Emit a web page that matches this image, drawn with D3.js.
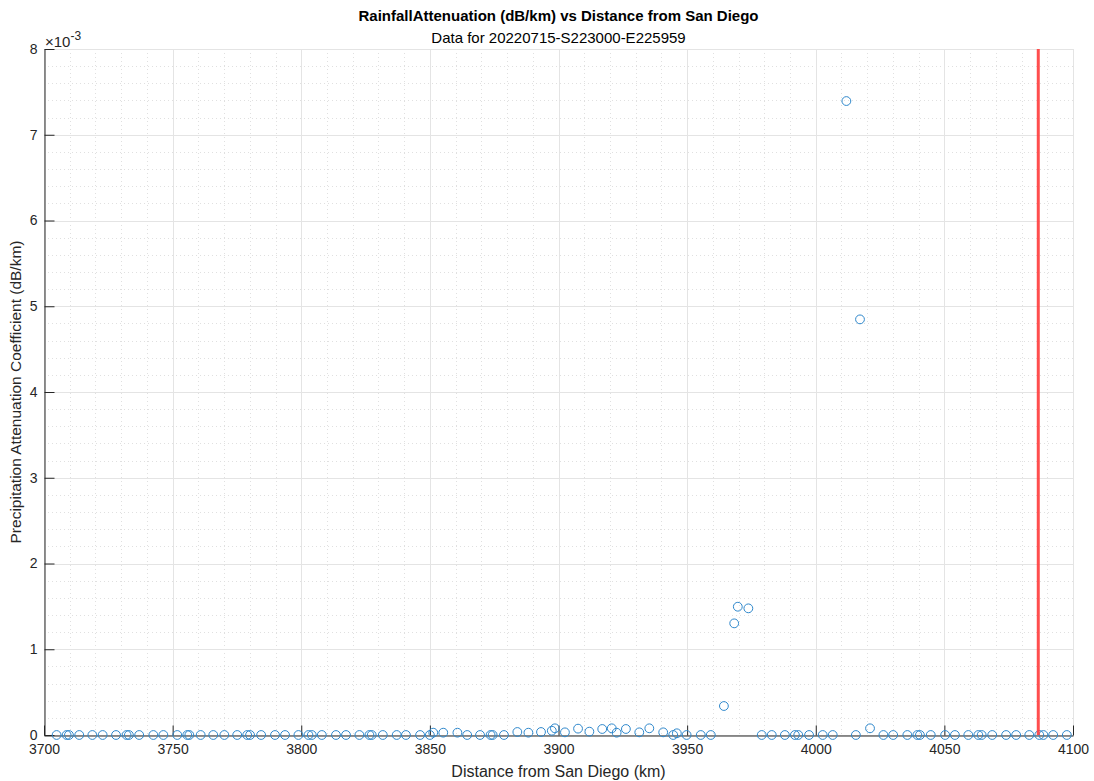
<!DOCTYPE html>
<html>
<head>
<meta charset="utf-8">
<script src="https://cdn.jsdelivr.net/npm/d3@7"></script>
<style>
  html, body { margin: 0; padding: 0; background: #fff; }
  svg { display: block; font-family: "Liberation Sans", Arial, Helvetica, sans-serif; }
</style>
</head>
<body>
<svg id="chart" width="1094" height="781"></svg>
<script>
// Distance from San Diego (km) for each sample
const distanceKm = [
  3704.9, 3708.8, 3709.7, 3713.7, 3718.8, 3722.8, 3728.0, 3732.1, 3733.0, 3737.0,
  3742.5, 3746.4, 3751.8, 3755.7, 3756.5, 3760.9, 3765.8, 3770.1, 3775.1, 3779.0,
  3780.1, 3784.4, 3789.8, 3793.7, 3798.9, 3802.8, 3804.1, 3808.0, 3813.5, 3817.4,
  3822.6, 3826.5, 3827.4, 3831.7, 3837.1, 3840.7, 3846.2, 3850.0, 3851.3, 3855.2,
  3860.7, 3864.5, 3869.5, 3873.6, 3874.4, 3878.8, 3884.0, 3888.3, 3893.2, 3897.4,
  3898.6, 3902.5, 3907.6, 3912.0, 3917.0, 3920.7, 3922.6, 3926.2, 3931.4, 3935.3,
  3940.7, 3944.6, 3946.0, 3949.8, 3955.3, 3959.2, 3964.3, 3968.3, 3969.7, 3973.8,
  3979.0, 3982.9, 3988.0, 3991.9, 3993.2, 3997.4, 4002.7, 4006.6, 4011.9, 4015.6,
  4017.2, 4021.1, 4026.3, 4030.1, 4035.6, 4039.5, 4040.5, 4044.7, 4050.3, 4054.1,
  4059.3, 4063.2, 4064.5, 4068.6, 4074.0, 4077.9, 4083.0, 4086.9, 4088.5, 4092.3,
  4097.6
];

// Precipitation attenuation coefficient (dB/km) for each sample
const attenuation = [
  0, 0, 0, 0, 0, 0, 0, 0, 0, 0,
  0, 0, 0, 0, 0, 0, 0, 0, 0, 0,
  0, 0, 0, 0, 0, 0, 0, 0, 0, 0,
  0, 0, 0, 0, 0, 0, 0, 0, 2.7e-5, 2.7e-5,
  2.7e-5, 0, 0, 0, 0, 0, 3.5e-5, 2.7e-5, 3.5e-5, 5.0e-5,
  7.8e-5, 3.1e-5, 7.4e-5, 3.9e-5, 7.0e-5, 7.8e-5, 2.7e-5, 7.0e-5, 3.1e-5, 7.8e-5,
  3.1e-5, 0, 2.0e-5, 0, 0, 0, 3.38e-4, 1.302e-3, 1.496e-3, 1.477e-3,
  0, 0, 0, 0, 0, 0, 0, 0, 7.393e-3, 0,
  4.847e-3, 7.8e-5, 0, 0, 0, 0, 0, 0, 0, 0,
  0, 0, 0, 0, 0, 0, 0, 0, 0, 0,
  0
];

// Marker line position (km)
const markerKm = [4086.5];

// Axis ticks
const xTicks = [3700, 3750, 3800, 3850, 3900, 3950, 4000, 4050, 4100];
const yTicks = [0, 1, 2, 3, 4, 5, 6, 7, 8];   // in units of 1e-3
const yExponent = -3;

const titleText = "RainfallAttenuation (dB/km) vs Distance from San Diego";
const subtitleText = "Data for 20220715-S223000-E225959";
const xLabelText = "Distance from San Diego (km)";
const yLabelText = "Precipitation Attenuation Coefficient (dB/km)";

const svg = d3.select("#chart");
const margin = { left: 44, right: 1073, top: 49, bottom: 735 };

const x = d3.scaleLinear().domain([3700, 4100]).range([margin.left, margin.right]);
const y = d3.scaleLinear().domain([0, 8e-3]).range([margin.bottom, margin.top]);

const axisColor = "#262626";
const majorGrid = "#e4e4e4";
const minorGrid = "#e0e0e0";

// Minor grid (dotted)
const xMinor = d3.range(3700, 4100.1, 10).filter(v => v % 50 !== 0);
const yMinor = d3.range(0, 8.01, 0.2).filter(v => Math.abs(v - Math.round(v)) > 1e-6).map(v => v * 1e-3);

const grid = svg.append("g");
grid.selectAll(".xm").data(xMinor).join("line")
  .attr("x1", d => Math.round(x(d)) + 0.5).attr("x2", d => Math.round(x(d)) + 0.5)
  .attr("y1", margin.top).attr("y2", margin.bottom)
  .attr("stroke", minorGrid).attr("stroke-dasharray", "1,3");
grid.selectAll(".ym").data(yMinor).join("line")
  .attr("y1", d => Math.round(y(d)) + 0.5).attr("y2", d => Math.round(y(d)) + 0.5)
  .attr("x1", margin.left).attr("x2", margin.right)
  .attr("stroke", minorGrid).attr("stroke-dasharray", "1,3");

// Major grid (solid)
grid.selectAll(".xg").data(xTicks).join("line")
  .attr("x1", d => Math.round(x(d)) + 0.5).attr("x2", d => Math.round(x(d)) + 0.5)
  .attr("y1", margin.top).attr("y2", margin.bottom)
  .attr("stroke", majorGrid);
grid.selectAll(".yg").data(yTicks).join("line")
  .attr("y1", d => Math.round(y(d * 1e-3)) + 0.5).attr("y2", d => Math.round(y(d * 1e-3)) + 0.5)
  .attr("x1", margin.left).attr("x2", margin.right)
  .attr("stroke", majorGrid);

// Axes with inward ticks
const xAxis = d3.axisBottom(x).tickValues(xTicks).tickSizeInner(-10).tickSizeOuter(0)
  .tickPadding(9).tickFormat(d3.format("d"));
const gx = svg.append("g").attr("transform", `translate(0,${margin.bottom + 0.5})`).call(xAxis);

const yAxis = d3.axisLeft(y).tickValues(yTicks.map(v => v * 1e-3)).tickSizeInner(-10).tickSizeOuter(0)
  .tickPadding(7).tickFormat(d => d3.format("d")(Math.round(d * 1000)));
const gy = svg.append("g").attr("transform", `translate(${margin.left + 0.5},0)`).call(yAxis);

[gx, gy].forEach(g => {
  g.select(".domain").attr("stroke", axisColor).attr("stroke-width", 1);
  g.selectAll(".tick line").attr("stroke", axisColor);
  g.selectAll(".tick text").attr("fill", axisColor)
    .style("font-family", "'Liberation Sans', Arial, sans-serif").style("font-size", "14px");
});

// Exponent label
const expLabel = svg.append("text").attr("x", 45).attr("y", 47)
  .attr("fill", axisColor).style("font-size", "15px");
expLabel.append("tspan").text("\u00d710");
expLabel.append("tspan").attr("dy", -7).style("font-size", "12px").text(String(yExponent));

// Scatter points
svg.append("g").selectAll("circle")
  .data(distanceKm.map((d, i) => ({ d, v: attenuation[i] })))
  .join("circle")
  .attr("cx", p => x(p.d))
  .attr("cy", p => y(p.v))
  .attr("r", 4.4)
  .attr("fill", "none")
  .attr("stroke", "#2f88cc")
  .attr("stroke-width", 1);

// Vertical marker line
svg.append("g").selectAll("line").data(markerKm).join("line")
  .attr("x1", d => x(d)).attr("x2", d => x(d))
  .attr("y1", margin.top).attr("y2", margin.bottom)
  .attr("stroke", "#ff3b3b").attr("stroke-opacity", 0.9).attr("stroke-width", 3);

// Titles
const cx = (margin.left + margin.right) / 2;
svg.append("text").attr("x", cx).attr("y", 21).attr("text-anchor", "middle")
  .attr("fill", "#000").style("font-size", "15px").style("font-weight", "bold").text(titleText);
svg.append("text").attr("x", cx).attr("y", 43).attr("text-anchor", "middle")
  .attr("fill", "#000").style("font-size", "15px").text(subtitleText);

// Axis labels
svg.append("text").attr("x", cx).attr("y", 777).attr("text-anchor", "middle")
  .attr("fill", axisColor).style("font-size", "16px").text(xLabelText);
svg.append("text").attr("transform", `translate(21,${(margin.top + margin.bottom) / 2}) rotate(-90)`)
  .attr("text-anchor", "middle").attr("fill", axisColor).style("font-size", "15.5px").text(yLabelText);
</script>
</body>
</html>
